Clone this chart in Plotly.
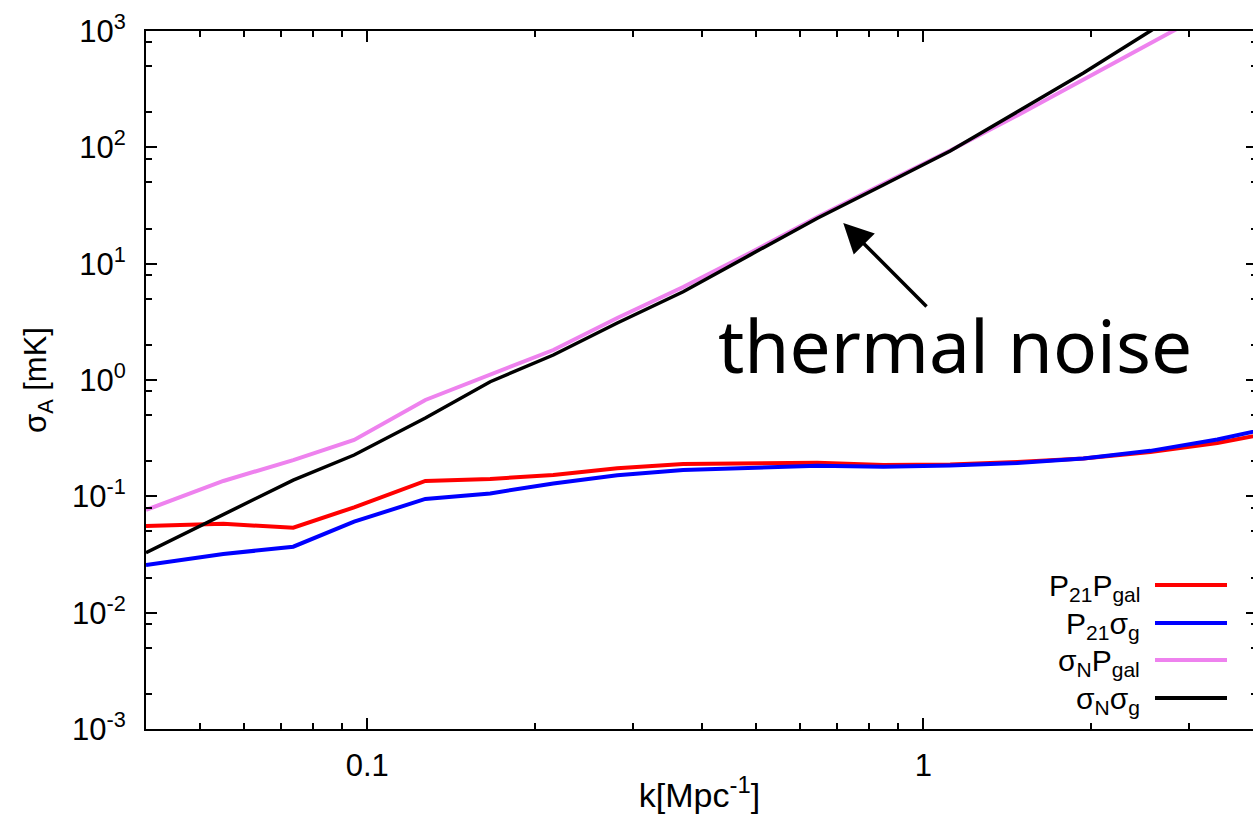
import numpy as np
import plotly.graph_objects as go

# wavenumber bins [Mpc^-1]
k = [0.0400, 0.0551, 0.0736, 0.0947, 0.1272, 0.1664, 0.2161, 0.2816, 0.3700,
     0.4884, 0.6449, 0.8475, 1.118, 1.476, 1.941, 2.561, 3.380, 4.442]

# sigma_A [mK] for each combination of signal / noise terms
p21_pgal = [0.0556, 0.0580, 0.0537, 0.0805, 0.1355, 0.141, 0.1525, 0.174, 0.190,
            0.193, 0.1945, 0.186, 0.188, 0.197, 0.211, 0.240, 0.287, 0.369]
p21_sg = [0.0257, 0.0319, 0.0369, 0.0605, 0.095, 0.106, 0.129, 0.152, 0.168,
          0.177, 0.183, 0.180, 0.184, 0.1935, 0.211, 0.246, 0.308, 0.409]
sn_pgal = [0.0763, 0.1355, 0.205, 0.305, 0.673, 1.10, 1.81, 3.41, 6.3,
           12.4, 25.2, 48.5, 94.0, 188.0, 385.0, 789.0, 1610.0, 3210.0]
sn_sg = [0.0328, 0.0695, 0.138, 0.2265, 0.471, 0.967, 1.64, 3.09, 5.74,
         11.9, 24.6, 47.5, 93.0, 202.0, 436.0, 1000.0, 2340.0, 5490.0]

series = [
    ("P<sub>21</sub>P<sub>gal</sub>", p21_pgal, "#ff0000", 4),
    ("P<sub>21</sub>σ<sub>g</sub>", p21_sg, "#0000ff", 4),
    ("σ<sub>N</sub>P<sub>gal</sub>", sn_pgal, "#ee82ee", 4),
    ("σ<sub>N</sub>σ<sub>g</sub>", sn_sg, "#000000", 3.5),
]

y_major = [1e-3, 1e-2, 1e-1, 1e0, 1e1, 1e2, 1e3]
y_labels = ["10<sup>-3</sup>", "10<sup>-2</sup>", "10<sup>-1</sup>", "10<sup>0</sup>",
            "10<sup>1</sup>", "10<sup>2</sup>", "10<sup>3</sup>"]
y_minor = [m * d for d in [1e-3, 1e-2, 1e-1, 1e0, 1e1, 1e2] for m in (2, 5, 8)]

x_major = [0.1, 1]
x_labels = ["0.1", "1"]
x_minor = ([m * 0.01 for m in range(5, 10)] + [m * 0.1 for m in range(2, 10)]
           + [m * 1.0 for m in range(2, 10)])

# annotation: arrow tip / tail and label position (k, sigma)
arrow_tip = (0.718, 22.4)
arrow_tail = (1.02, 4.16)
label_pos = (1.142, 2.0)

W, H = 1253, 814
ML, MR, MT, MB = 146, 0, 31, 85
px_per_decade = 556.0
x_lo = np.log10(0.04)
x_hi = x_lo + (W - ML - MR) / px_per_decade

font_main = "Liberation Sans, Arial, Helvetica, sans-serif"

fig = go.Figure()
for name, vals, color, lw in series:
    fig.add_trace(go.Scatter(x=k, y=vals, mode="lines", name=name,
                             line=dict(color=color, width=lw), showlegend=False))

# empty trace carrying the right-hand tick axis
fig.add_trace(go.Scatter(x=[None], y=[None], yaxis="y2", showlegend=False,
                         hoverinfo="skip"))

# hand-built legend: right-aligned label followed by line sample
leg_rows = [585, 623, 660, 698]
plot_w = W - ML - MR
plot_h = H - MT - MB
def px_x(p):
    return (p - ML) / plot_w
def px_y(p):
    return 1 - (p - MT) / plot_h

annotations = []
shapes = []
for (name, vals, color, lw), row in zip(series, leg_rows):
    annotations.append(dict(xref="paper", yref="paper", x=px_x(1142), y=px_y(row + 2),
                            text=name, showarrow=False, xanchor="right", yanchor="middle",
                            font=dict(family=font_main, size=30, color="black")))
    shapes.append(dict(type="line", xref="paper", yref="paper",
                       x0=px_x(1155), x1=px_x(1227), y0=px_y(row), y1=px_y(row),
                       line=dict(color=color, width=4)))

annotations.append(dict(x=np.log10(arrow_tip[0]), y=np.log10(arrow_tip[1]),
                        ax=np.log10(arrow_tail[0]), ay=np.log10(arrow_tail[1]),
                        xref="x", yref="y", axref="x", ayref="y", text="",
                        showarrow=True, arrowhead=2, arrowsize=1.7, arrowwidth=3.5,
                        arrowcolor="black", standoff=0, startstandoff=0))
annotations.append(dict(x=np.log10(label_pos[0]), y=np.log10(label_pos[1]),
                        xref="x", yref="y", text="thermal noise", showarrow=False,
                        xanchor="center", yanchor="middle",
                        font=dict(family="Noto Sans, sans-serif", size=73, color="black")))

fig.update_layout(
    width=W, height=H,
    margin=dict(l=ML, r=MR, t=MT, b=MB, pad=0),
    paper_bgcolor="white", plot_bgcolor="white",
    font=dict(family=font_main, size=31, color="black"),
    annotations=annotations,
    shapes=shapes,
    xaxis=dict(
        type="log", range=[x_lo, x_hi],
        tickmode="array", tickvals=x_major, ticktext=x_labels,
        ticks="inside", ticklen=11, tickwidth=1.5, tickcolor="black",
        minor=dict(tickmode="array", tickvals=x_minor, ticks="inside",
                   ticklen=6, tickwidth=1.5, tickcolor="black", showgrid=False),
        showline=True, linewidth=2, linecolor="black", mirror="ticks",
        showgrid=False, zeroline=False,
        ticklabelstandoff=8,
        title=dict(text="k[Mpc<sup>-1</sup>]", standoff=8,
                   font=dict(family=font_main, size=34)),
    ),
    yaxis=dict(
        type="log", range=[-3, 3],
        tickmode="array", tickvals=y_major, ticktext=y_labels,
        ticks="inside", ticklen=11, tickwidth=1.5, tickcolor="black",
        minor=dict(tickmode="array", tickvals=y_minor, ticks="inside",
                   ticklen=6, tickwidth=1.5, tickcolor="black", showgrid=False),
        showline=True, linewidth=2, linecolor="black", mirror=False,
        showgrid=False, zeroline=False,
        ticklabelstandoff=12,
        title=dict(text="σ<sub>A</sub> [mK]", standoff=16,
                   font=dict(family=font_main, size=31)),
    ),
    yaxis2=dict(
        type="log", range=[-3, 3], overlaying="y", side="right", anchor="x",
        tickmode="array", tickvals=y_major, showticklabels=False,
        ticks="inside", ticklen=7, tickwidth=1.5, tickcolor="black",
        minor=dict(tickmode="array", tickvals=y_minor, ticks="inside",
                   ticklen=2, tickwidth=1.5, tickcolor="black", showgrid=False),
        showline=False, showgrid=False, zeroline=False,
    ),
)

fig.write_html("out.html")
